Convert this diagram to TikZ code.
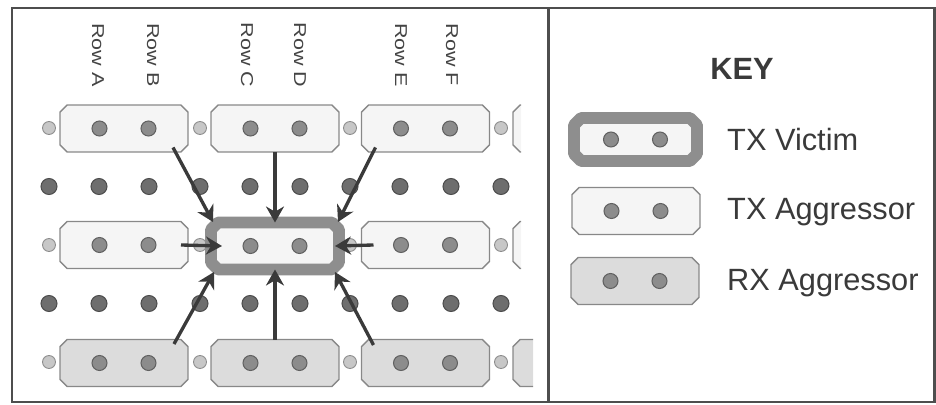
\documentclass[tikz,border=0pt]{standalone}
\usepackage{fontspec}
\setmainfont{Liberation Sans}
\usepackage{tikz}
\usetikzlibrary{arrows.meta}
\definecolor{framegray}{HTML}{4E4E4E}
\definecolor{textgray}{HTML}{3A3A3A}
\definecolor{labelgray}{HTML}{444444}
\definecolor{boxedge}{HTML}{888888}
\definecolor{txfill}{HTML}{F5F5F5}
\definecolor{rxfill}{HTML}{DCDCDC}
\definecolor{victimedge}{HTML}{8E8E8E}
\definecolor{arrowgray}{HTML}{3A3A3A}
\tikzset{
    frame/.style={draw=framegray, line width=1.7pt},
    smallpin/.style={circle, inner sep=0pt, minimum size=0.26cm, fill=black!22, draw=black!45, line width=0.5pt},
    boxpin/.style={circle, inner sep=0pt, minimum size=0.30cm, fill=black!45, draw=black!62, line width=0.6pt},
    darkpin/.style={circle, inner sep=0pt, minimum size=0.32cm, fill=black!57, draw=black!70, line width=0.6pt},
    conn/.style={rectangle, inner sep=0pt, outer sep=0pt, minimum width=2.56cm, minimum height=0.94cm},
    txline/.style={draw=boxedge, fill=txfill, line width=0.8pt},
    rxline/.style={txline, fill=rxfill},
    victimline/.style={draw=victimedge, fill=txfill, line width=6.8pt, line join=round},
    hit/.style={draw=arrowgray, line width=1.9pt, -{Stealth[length=0.32cm, width=0.36cm]}},
    rowlabel/.style={rotate=-90, text=labelgray, font=\fontsize{9.8}{11}\selectfont},
    keytext/.style={anchor=west, text=textgray, font=\fontsize{17.5}{20}\selectfont}
}
% chamfered outline round a connector node
\newcommand{\chamferbox}[2]{%
    \path[#2] ([xshift=4pt]#1.north west) -- ([xshift=-4pt]#1.north east)
        -- ([yshift=-4pt]#1.north east) -- ([yshift=4pt]#1.south east)
        -- ([xshift=-4pt]#1.south east) -- ([xshift=4pt]#1.south west)
        -- ([yshift=4pt]#1.south west) -- ([yshift=-4pt]#1.north west) -- cycle;}

\begin{document}
\begin{tikzpicture}[x=0.02cm, y=-0.02cm]
    \useasboundingbox (0,0) rectangle (936,405);

    % outer frame and divider
    \draw[frame] (12,8) rectangle (934,402);
    \draw[frame] (548,8) -- (548,402);

    % row labels
    \node[rowlabel] (ra) at (98,55)  {\scalebox{1.25}[1]{Row A}};
    \node[rowlabel] (rb) at (153,55) {\scalebox{1.25}[1]{Row B}};
    \node[rowlabel] (rc) at (247,55) {\scalebox{1.25}[1]{Row C}};
    \node[rowlabel] (rd) at (300,55) {\scalebox{1.25}[1]{Row D}};
    \node[rowlabel] (re) at (401,55) {\scalebox{1.25}[1]{Row E}};
    \node[rowlabel] (rf) at (452,55) {\scalebox{1.25}[1]{Row F}};

    % loose pins
    \foreach \x [count=\i] in {49,200,350,501}
        \foreach \y [count=\j] in {128,245,362}
            \node[smallpin] (s\j\i) at (\x,\y) {};
    \foreach \x [count=\i] in {49,99,149,200,250,300,350,400,451,501}
        \foreach \y [count=\j] in {186.5,303.5}
            \node[darkpin] (d\j\i) at (\x,\y) {};

    % connectors, top row (TX aggressors)
    \node[conn] (a1) at (124,128.5) {};
    \node[conn] (a2) at (275,128.5) {};
    \node[conn] (a3) at (425.5,128.5) {};
    % middle row, victim in the centre
    \node[conn] (b1) at (124,245) {};
    \node[conn] (v)  at (275,246) {};
    \node[conn] (b3) at (425.5,245) {};
    % bottom row (RX aggressors)
    \node[conn] (c1) at (124,363) {};
    \node[conn] (c2) at (275,363) {};
    \node[conn] (c3) at (425.5,363) {};
    % cut off at the right edge
    \node[conn] (a4) at (577,128.5) {};
    \node[conn] (b4) at (577,245) {};
    \node[conn] (c4) at (577,363) {};

    \foreach \n in {a1,a2,a3,b1,b3}
        \chamferbox{\n}{txline};
    \foreach \n in {c1,c2,c3}
        \chamferbox{\n}{rxline};
    \chamferbox{v}{victimline};
    \begin{scope}
        \clip (505,90) rectangle (521,280);
        \chamferbox{a4}{txline};
        \chamferbox{b4}{txline};
    \end{scope}
    \begin{scope}
        \clip (505,330) rectangle (533,395);
        \chamferbox{c4}{rxline};
    \end{scope}

    % legend
    \node[font=\bfseries\fontsize{17.5}{20}\selectfont, text=textgray] (key) at (742,69) {KEY};
    \node[conn, minimum width=2.46cm, minimum height=0.86cm] (kv) at (635.5,139.5) {};
    \node[conn] (kt) at (636,211) {};
    \node[conn] (kr) at (635,281) {};
    \chamferbox{kv}{victimline};
    \chamferbox{kt}{txline};
    \chamferbox{kr}{rxline};
    \node[keytext] (tv) at (721,140) {TX Victim};
    \node[keytext] (ta) at (721,212) {TX Aggressor};
    \node[keytext] (xa) at (721,283) {RX Aggressor};

    % contact pins inside the connectors
    \foreach \n in {a1,a2,a3,b1,v,b3,c1,c2,c3,kv,kt,kr} {
        \node[boxpin] (\n-l) at ([xshift=-0.49cm]\n.center) {};
        \node[boxpin] (\n-r) at ([xshift=0.49cm]\n.center) {};
    }

    % crosstalk onto the victim
    \draw[hit] ([shift={(49,19)}]a1.center) -- ([shift={(-62,-24)}]v.center);
    \draw[hit] (a2.south) -- (v.north);
    \draw[hit] ([shift={(-50,19)}]a3.center) -- ([shift={(63,-24)}]v.center);
    \draw[hit] ([shift={(57,0)}]b1.center) -- ([shift={(-53,0)}]v.center);
    \draw[hit] ([shift={(-52,0)}]b3.center) -- ([shift={(60,0)}]v.center);
    \draw[hit] ([shift={(50,-19)}]c1.center) -- ([shift={(-61,26)}]v.center);
    \draw[hit] (c2.north) -- (v.south);
    \draw[hit] ([shift={(-52,-18)}]c3.center) -- ([shift={(60,26)}]v.center);
\end{tikzpicture}
\end{document}
